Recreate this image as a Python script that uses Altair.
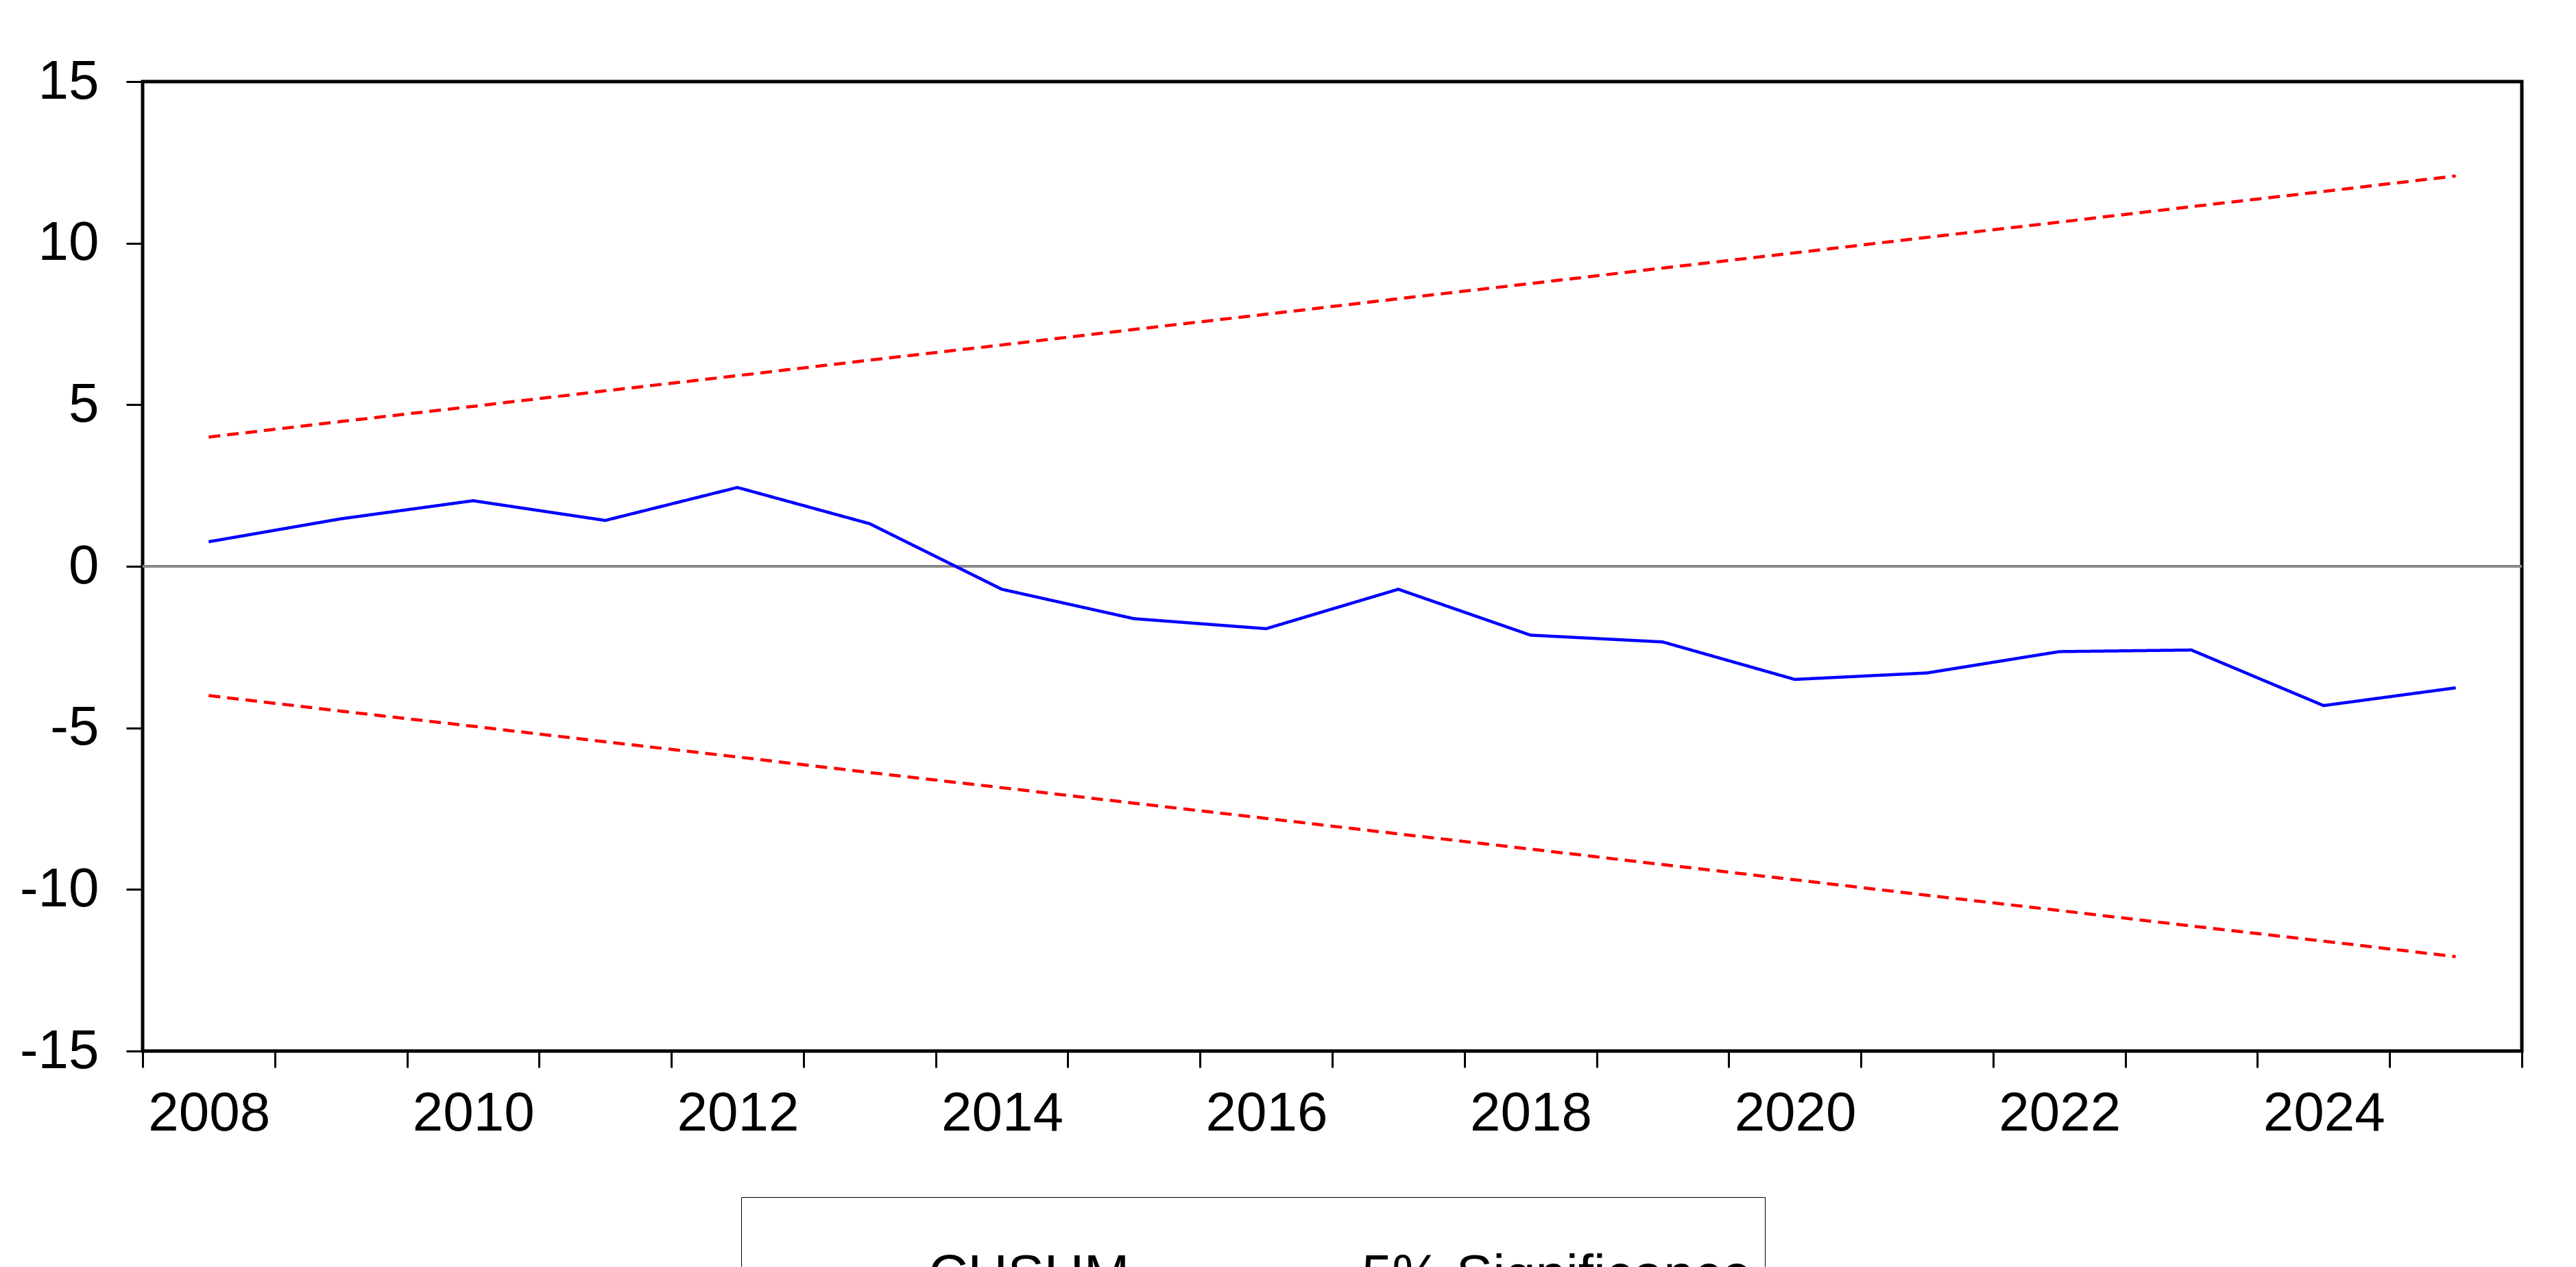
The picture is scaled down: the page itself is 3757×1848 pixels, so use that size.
import altair as alt
import pandas as pd

years = list(range(2007, 2025))
cusum = [0.76, 1.47, 2.03, 1.42, 2.44, 1.32, -0.71, -1.62, -1.93, -0.71,
         -2.13, -2.34, -3.50, -3.30, -2.64, -2.59, -4.31, -3.76]
upper = [4.00, 4.48, 4.95, 5.43, 5.90, 6.38, 6.85, 7.33, 7.80, 8.28,
         8.75, 9.23, 9.70, 10.18, 10.65, 11.13, 11.60, 12.08]
lower = [-v for v in upper]

rows = []
for y, c, u, l in zip(years, cusum, upper, lower):
    rows.append({'year': y, 'value': c, 'line': 'cusum', 'kind': 'CUSUM'})
    rows.append({'year': y, 'value': u, 'line': 'upper', 'kind': '5% Significance'})
    rows.append({'year': y, 'value': l, 'line': 'lower', 'kind': '5% Significance'})
df = pd.DataFrame(rows)

font = 'Liberation Sans'
tick_vals = [y - 0.5 for y in range(2007, 2026)]

lines = alt.Chart(df).mark_line(strokeWidth=4.5).encode(
    x=alt.X('year:Q', scale=alt.Scale(domain=[2006.5, 2024.5], nice=False, zero=False),
            axis=alt.Axis(values=tick_vals, title=None, grid=False,
                          labelExpr="(datum.value + 0.5) % 2 == 0 ? toString(datum.value + 0.5) : ''",
                          labelOffset=-96, labelPadding=28, tickSize=24, tickWidth=3,
                          domain=False, labelFontSize=80, labelFont=font, labelColor='black',
                          labelFlush=False, tickColor='black')),
    y=alt.Y('value:Q', scale=alt.Scale(domain=[-15, 15], nice=False),
            axis=alt.Axis(values=[-15, -10, -5, 0, 5, 10, 15], title=None, grid=False,
                          labelExpr="toString(datum.value)",
                          tickSize=24, tickWidth=3, domain=False, labelFontSize=80,
                          labelFont=font, labelColor='black', labelPadding=40,
                          labelFlush=False, tickColor='black')),
    color=alt.Color('kind:N', scale=alt.Scale(domain=['CUSUM', '5% Significance'],
                                              range=['#0000ff', '#ff0000']),
                    legend=alt.Legend(title=None, orient='none', direction='horizontal',
                                      legendX=873, legendY=1627,
                                      strokeColor='black', padding=18,
                                      labelFontSize=80, labelFont=font, labelColor='black',
                                      symbolType='stroke', symbolStrokeWidth=5, symbolSize=36000,
                                      columnPadding=75, labelOffset=60, labelLimit=1000)),
    strokeDash=alt.StrokeDash('kind:N', scale=alt.Scale(domain=['CUSUM', '5% Significance'],
                                                        range=[[1, 0], [17, 10]]),
                              legend=None),
    detail='line:N'
)

zero = alt.Chart(df).mark_rule(color='#888888', strokeWidth=2.5).encode(y=alt.datum(0))

chart = alt.layer(zero, lines).properties(
    width=3470, height=1414, background='white',
    padding={'left': 20, 'top': 71, 'right': 20, 'bottom': 10}
).configure_view(stroke='black', strokeWidth=5)

chart.save("out.html", embed_options={"renderer": "svg", "actions": False})
